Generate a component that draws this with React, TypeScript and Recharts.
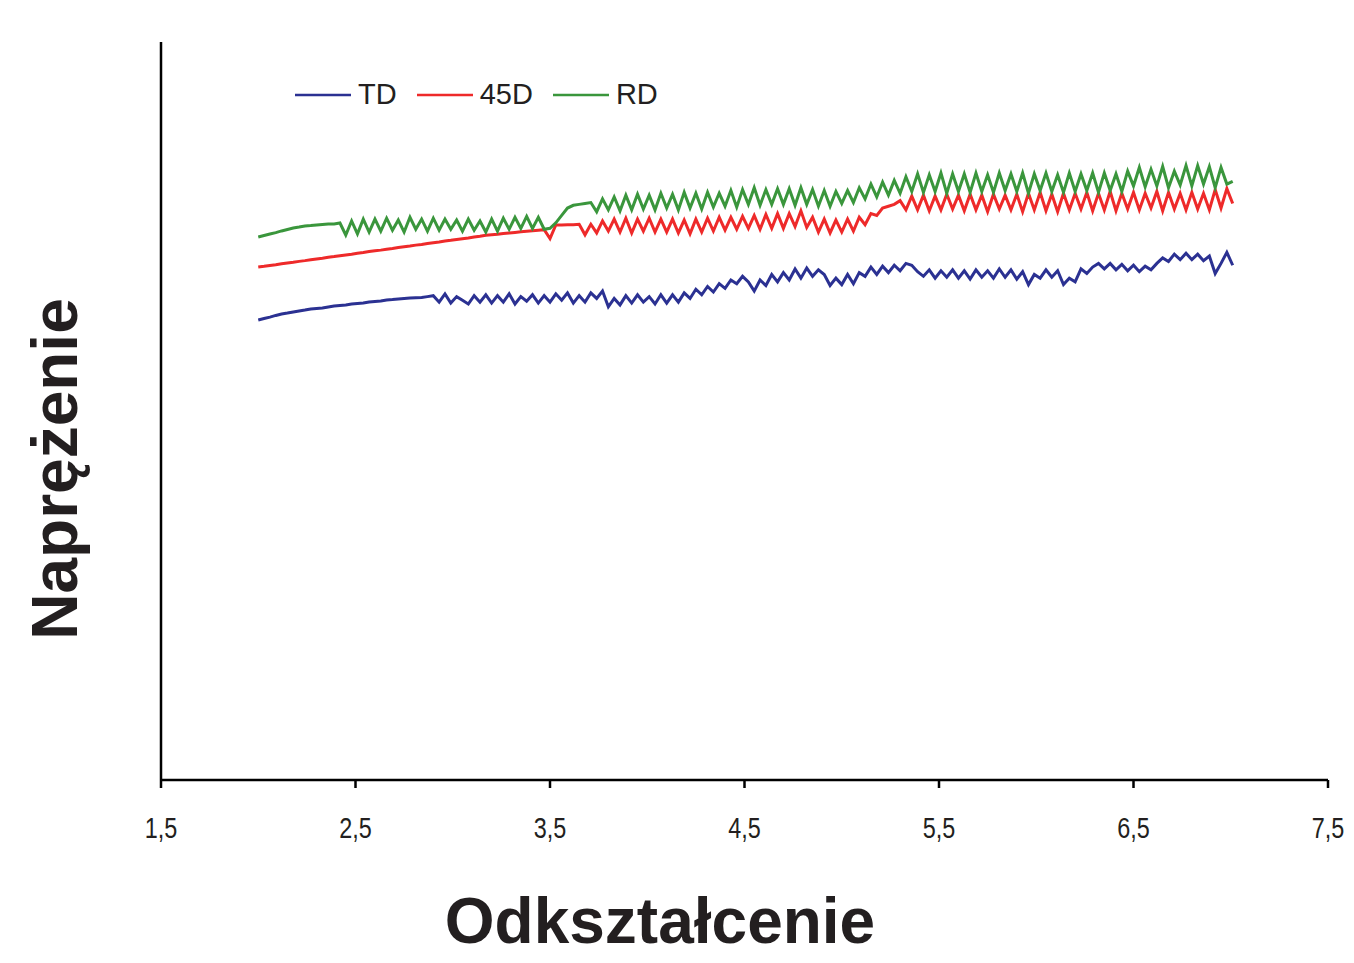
import React from 'react';
import { LineChart, Line, XAxis, YAxis, Legend, Label } from 'recharts';

const strain: number[] = [
  2.00, 2.03, 2.06, 2.09, 2.12, 2.15, 2.18, 2.21, 2.24, 2.27,
  2.30, 2.33, 2.36, 2.39, 2.42, 2.45, 2.48, 2.51, 2.54, 2.57,
  2.60, 2.63, 2.66, 2.69, 2.72, 2.75, 2.78, 2.81, 2.84, 2.87,
  2.90, 2.93, 2.96, 2.99, 3.02, 3.05, 3.08, 3.11, 3.14, 3.17,
  3.20, 3.23, 3.26, 3.29, 3.32, 3.35, 3.38, 3.41, 3.44, 3.47,
  3.50, 3.53, 3.56, 3.59, 3.62, 3.65, 3.68, 3.71, 3.74, 3.77,
  3.80, 3.83, 3.86, 3.89, 3.92, 3.95, 3.98, 4.01, 4.04, 4.07,
  4.10, 4.13, 4.16, 4.19, 4.22, 4.25, 4.28, 4.31, 4.34, 4.37,
  4.40, 4.43, 4.46, 4.49, 4.52, 4.55, 4.58, 4.61, 4.64, 4.67,
  4.70, 4.73, 4.76, 4.79, 4.82, 4.85, 4.88, 4.91, 4.94, 4.97,
  5.00, 5.03, 5.06, 5.09, 5.12, 5.15, 5.18, 5.21, 5.24, 5.27,
  5.30, 5.33, 5.36, 5.39, 5.42, 5.45, 5.48, 5.51, 5.54, 5.57,
  5.60, 5.63, 5.66, 5.69, 5.72, 5.75, 5.78, 5.81, 5.84, 5.87,
  5.90, 5.93, 5.96, 5.99, 6.02, 6.05, 6.08, 6.11, 6.14, 6.17,
  6.20, 6.23, 6.26, 6.29, 6.32, 6.35, 6.38, 6.41, 6.44, 6.47,
  6.50, 6.53, 6.56, 6.59, 6.62, 6.65, 6.68, 6.71, 6.74, 6.77,
  6.80, 6.83, 6.86, 6.89, 6.92, 6.95, 6.98, 7.01,
];

const td: number[] = [
  2.493, 2.501, 2.509, 2.518, 2.526, 2.531, 2.537, 2.542, 2.547, 2.553,
  2.556, 2.558, 2.564, 2.569, 2.572, 2.575, 2.580, 2.583, 2.585, 2.591,
  2.594, 2.596, 2.602, 2.604, 2.607, 2.610, 2.612, 2.614, 2.615, 2.620,
  2.625, 2.59, 2.635, 2.585, 2.62, 2.60, 2.58, 2.625, 2.59, 2.63,
  2.585, 2.625, 2.59, 2.635, 2.58, 2.62, 2.595, 2.63, 2.585, 2.625,
  2.59, 2.635, 2.60, 2.64, 2.585, 2.625, 2.59, 2.64, 2.61, 2.65,
  2.565, 2.61, 2.575, 2.625, 2.585, 2.63, 2.59, 2.62, 2.58, 2.63,
  2.585, 2.63, 2.59, 2.64, 2.61, 2.66, 2.63, 2.675, 2.645, 2.69,
  2.665, 2.71, 2.69, 2.73, 2.70, 2.65, 2.71, 2.68, 2.74, 2.70,
  2.75, 2.71, 2.77, 2.72, 2.775, 2.73, 2.765, 2.74, 2.68, 2.72,
  2.685, 2.74, 2.69, 2.75, 2.73, 2.78, 2.74, 2.785, 2.75, 2.79,
  2.76, 2.80, 2.79, 2.755, 2.73, 2.765, 2.72, 2.76, 2.725, 2.765,
  2.72, 2.76, 2.715, 2.765, 2.725, 2.76, 2.72, 2.77, 2.725, 2.765,
  2.715, 2.755, 2.685, 2.74, 2.72, 2.765, 2.725, 2.76, 2.685, 2.72,
  2.70, 2.77, 2.745, 2.78, 2.80, 2.77, 2.80, 2.765, 2.795, 2.76,
  2.79, 2.755, 2.785, 2.765, 2.80, 2.83, 2.81, 2.85, 2.82, 2.855,
  2.82, 2.85, 2.815, 2.84, 2.745, 2.80, 2.86, 2.79,
];

const d45: number[] = [
  2.780, 2.784, 2.789, 2.793, 2.798, 2.802, 2.806, 2.811, 2.815, 2.820,
  2.824, 2.828, 2.833, 2.837, 2.842, 2.846, 2.850, 2.855, 2.859, 2.864,
  2.868, 2.872, 2.877, 2.881, 2.886, 2.890, 2.894, 2.899, 2.903, 2.908,
  2.912, 2.916, 2.921, 2.925, 2.930, 2.934, 2.938, 2.943, 2.947, 2.952,
  2.955, 2.958, 2.962, 2.965, 2.968, 2.971, 2.974, 2.977, 2.980, 2.983,
  2.935, 3.008, 3.008, 3.010, 3.010, 3.012, 2.955, 3.012, 2.965, 3.03,
  2.975, 3.04, 2.97, 3.045, 2.965, 3.04, 2.975, 3.045, 2.97, 3.04,
  2.97, 3.04, 2.965, 3.035, 2.96, 3.04, 2.97, 3.045, 2.975, 3.05,
  2.98, 3.05, 2.985, 3.055, 2.99, 3.06, 2.985, 3.065, 2.99, 3.07,
  2.99, 3.07, 3.00, 3.085, 2.995, 3.05, 2.97, 3.04, 2.965, 3.035,
  2.97, 3.04, 2.975, 3.05, 3.01, 3.07, 3.06, 3.10, 3.11, 3.12,
  3.14, 3.09, 3.165, 3.09, 3.17, 3.085, 3.165, 3.09, 3.175, 3.095,
  3.17, 3.085, 3.175, 3.09, 3.17, 3.08, 3.175, 3.095, 3.17, 3.09,
  3.175, 3.08, 3.18, 3.09, 3.185, 3.085, 3.175, 3.08, 3.18, 3.09,
  3.18, 3.095, 3.185, 3.085, 3.18, 3.09, 3.19, 3.085, 3.18, 3.095,
  3.185, 3.09, 3.18, 3.10, 3.19, 3.085, 3.185, 3.095, 3.18, 3.09,
  3.185, 3.095, 3.18, 3.09, 3.20, 3.10, 3.205, 3.125,
];

const rd: number[] = [
  2.943, 2.951, 2.959, 2.967, 2.976, 2.984, 2.992, 2.997, 3.003, 3.005,
  3.008, 3.011, 3.014, 3.014, 3.019, 2.954, 3.03, 2.96, 3.04, 2.97,
  3.04, 2.975, 3.045, 2.98, 3.035, 2.97, 3.05, 2.985, 3.04, 2.975,
  3.045, 2.98, 3.04, 2.985, 3.035, 2.975, 3.04, 2.98, 3.03, 2.97,
  3.04, 2.975, 3.045, 2.985, 3.05, 2.99, 3.055, 2.99, 3.05, 2.985,
  2.99, 3.02, 3.06, 3.10, 3.115, 3.12, 3.125, 3.13, 3.08, 3.15,
  3.09, 3.16, 3.085, 3.17, 3.09, 3.175, 3.095, 3.17, 3.09, 3.18,
  3.10, 3.175, 3.09, 3.185, 3.10, 3.18, 3.095, 3.185, 3.105, 3.18,
  3.11, 3.195, 3.105, 3.20, 3.12, 3.21, 3.115, 3.20, 3.12, 3.205,
  3.12, 3.205, 3.115, 3.21, 3.12, 3.20, 3.11, 3.195, 3.11, 3.19,
  3.125, 3.195, 3.13, 3.21, 3.15, 3.23, 3.16, 3.24, 3.17, 3.25,
  3.18, 3.27, 3.19, 3.285, 3.185, 3.28, 3.19, 3.29, 3.18, 3.285,
  3.19, 3.285, 3.185, 3.29, 3.19, 3.28, 3.185, 3.29, 3.195, 3.285,
  3.19, 3.29, 3.18, 3.285, 3.195, 3.29, 3.19, 3.28, 3.185, 3.29,
  3.19, 3.285, 3.195, 3.29, 3.185, 3.29, 3.195, 3.285, 3.19, 3.30,
  3.22, 3.32, 3.215, 3.31, 3.22, 3.325, 3.21, 3.30, 3.225, 3.33,
  3.22, 3.33, 3.23, 3.325, 3.21, 3.32, 3.23, 3.245,
];

const xTicks: number[] = [1.5, 2.5, 3.5, 4.5, 5.5, 6.5, 7.5];
const yTicks: number[] = [0, 1, 2, 3, 4];
const seriesOrder: string[] = ['TD', '45D', 'RD'];
const xTitle = 'Odkształcenie';
const yTitle = 'Naprężenie';

const data = strain.map((s, i) => ({ strain: s, TD: td[i], D45: d45[i], RD: rd[i] }));

const FONT = '"Liberation Sans", Arial, Helvetica, sans-serif';
const INK = '#231f20';

const XTick = (props: any) => {
  const { x, y, payload } = props;
  const label = Number(payload.value).toFixed(1).replace('.', ',');
  return (
    <g transform={`translate(${x},${y})`}>
      <text transform="scale(0.78,1)" x={0} y={50} textAnchor="middle" fontSize={30} fill={INK} fontFamily={FONT}>
        {label}
      </text>
    </g>
  );
};

const LegendContent = (props: any) => {
  const items = [...(props.payload || [])].sort(
    (a: any, b: any) => seriesOrder.indexOf(String(a.value)) - seriesOrder.indexOf(String(b.value))
  );
  return (
    <div style={{ display: 'flex', alignItems: 'center', fontFamily: FONT, fontSize: 29, color: INK, whiteSpace: 'nowrap' }}>
      {items.map((p: any, i: number) => (
        <div key={i} style={{ display: 'flex', alignItems: 'center', marginRight: 20 }}>
          <svg width={56} height={6} style={{ display: 'block' }}>
            <line x1={0} y1={3} x2={56} y2={3} stroke={p.color} strokeWidth={2.5} />
          </svg>
          <span style={{ marginLeft: 7 }}>{p.value}</span>
        </div>
      ))}
    </div>
  );
};

const XTitle = (props: any) => {
  const vb = props.viewBox || { x: 153, y: 772, width: 1167, height: 80 };
  return (
    <text x={vb.x + vb.width * 0.4276} y={vb.y + 163} textAnchor="middle" fontSize={64} fontWeight={700} fill={INK} fontFamily={FONT}>
      {xTitle}
    </text>
  );
};

const YTitle = (props: any) => {
  const vb = props.viewBox || { x: 73, y: 34, width: 80, height: 738 };
  const cx = vb.x - 4;
  const cy = vb.y + vb.height * 0.5786;
  return (
    <text transform={`translate(${cx},${cy}) rotate(-90)`} x={0} y={0} textAnchor="middle" fontSize={64} fontWeight={700} fill={INK} fontFamily={FONT}>
      {yTitle}
    </text>
  );
};

export default function App() {
  return (
    <div style={{ position: 'absolute', left: 8, top: 8, width: 1346, height: 952, background: '#fff' }}>
      <LineChart width={1346} height={952} data={data} margin={{ top: 34, right: 26, bottom: 100, left: 73 }}>
        <XAxis
          type="number"
          dataKey="strain"
          domain={[1.5, 7.5]}
          ticks={xTicks}
          interval={0}
          height={80}
          tickSize={8}
          tickMargin={0}
          axisLine={{ stroke: '#000', strokeWidth: 2.5 }}
          tickLine={{ stroke: '#000', strokeWidth: 2.5 }}
          tick={<XTick />}
        >
          <Label content={<XTitle />} />
        </XAxis>
        <YAxis
          type="number"
          domain={[0, 4]}
          ticks={yTicks}
          interval={0}
          width={80}
          tickSize={8}
          tick={false}
          axisLine={{ stroke: '#000', strokeWidth: 2.5 }}
          tickLine={{ stroke: '#000', strokeWidth: 2.5 }}
        >
          <Label content={<YTitle />} />
        </YAxis>
        <Legend
          layout="horizontal"
          verticalAlign="middle"
          align="center"
          content={<LegendContent />}
          wrapperStyle={{ top: 70, left: 287, width: 'auto', height: 'auto' }}
        />
        <Line type="linear" dataKey="TD" name="TD" stroke="#2b3192" strokeWidth={3} dot={false} activeDot={false} isAnimationActive={false} />
        <Line type="linear" dataKey="D45" name="45D" stroke="#ee2a2a" strokeWidth={3} dot={false} activeDot={false} isAnimationActive={false} />
        <Line type="linear" dataKey="RD" name="RD" stroke="#3a963c" strokeWidth={3} dot={false} activeDot={false} isAnimationActive={false} />
      </LineChart>
    </div>
  );
}
